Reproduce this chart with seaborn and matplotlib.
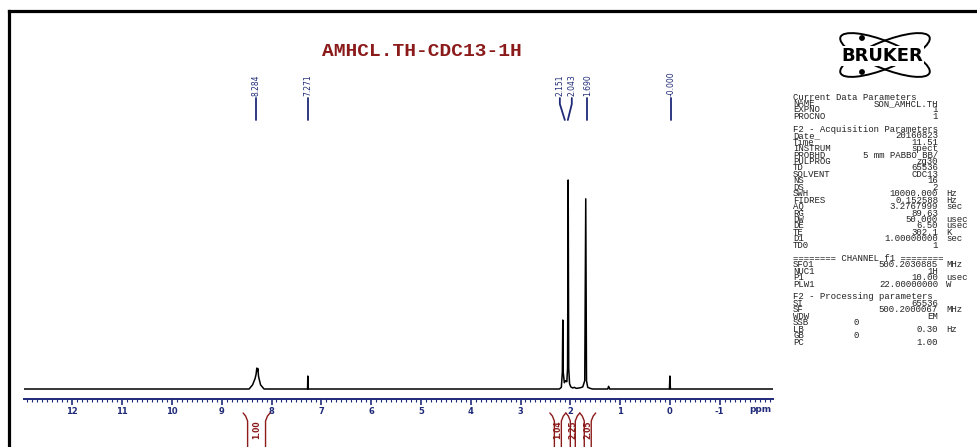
import matplotlib
matplotlib.use("Agg")
import matplotlib.pyplot as plt
import matplotlib.transforms as mtransforms
from matplotlib.patches import Ellipse, Circle
from matplotlib.ticker import MultipleLocator, FixedLocator
import seaborn as sns

# ---------------- data ----------------
title_text = "AMHCL.TH-CDC13-1H"

# spectrum vertices (ppm, relative intensity)
ppm = [12.97, 8.45, 8.38, 8.33, 8.31, 8.295, 8.284, 8.275, 8.26, 8.22, 8.15,
       7.276, 7.271, 7.266,
       2.22, 2.18, 2.16, 2.151, 2.142, 2.12, 2.095, 2.07, 2.055, 2.043, 2.032,
       2.015, 1.99, 1.95, 1.92, 1.88, 1.80, 1.75, 1.71, 1.690, 1.675, 1.65,
       1.60, 1.55, 1.25, 1.23, 1.21, 0.01, 0.0, -0.01, -2.07]
intensity = [0, 0, 2, 5, 7, 10, 8.5, 9.8, 6, 2, 0,
             0, 6.2, 0,
             0, 0.8, 8, 33, 8, 3, 4, 3.5, 10, 100, 10,
             2.5, 1, 0.5, 0.8, 0.3, 0.6, 1, 4, 91, 4, 0.8,
             0.3, 0, 0, 1.3, 0, 0, 6.2, 0, 0]

peak_labels = ["8.284", "7.271", "2.151", "2.043", "1.690", "-0.000"]
peak_label_x = [8.31, 7.27, 2.21, 1.97, 1.66, -0.03]
peak_line_x = [8.31, 7.27, 2.11, 2.05, 1.66, -0.03]

integral_values = ["1.00", "1.04", "2.25", "2.05"]
integral_start = [8.57, 2.41, 2.09, 1.81]
integral_end = [8.03, 2.09, 1.81, 1.49]

major_ticks = [12, 11, 10, 9, 8, 7, 6, 5, 4, 3, 2, 1, 0, -1]

param_keys = ["Current Data Parameters", "NAME", "EXPNO", "PROCNO", "",
              "F2 - Acquisition Parameters", "Date_", "Time", "INSTRUM",
              "PROBHD", "PULPROG", "TD", "SOLVENT", "NS", "DS", "SWH",
              "FIDRES", "AQ", "RG", "DW", "DE", "TE", "D1", "TD0", "",
              "======== CHANNEL f1 ========", "SFO1", "NUC1", "P1", "PLW1", "",
              "F2 - Processing parameters", "SI", "SF", "WDW", "SSB", "LB",
              "GB", "PC"]
param_values = ["", "SON_AMHCL.TH", "1", "1", "",
                "", "20160823", "11.51", "spect",
                "5 mm PABBO BB/", "zg30", "65536", "CDC13", "16", "2",
                "10000.000", "0.152588", "3.2767999", "89.63", "50.000",
                "6.50", "302.1", "1.00000000", "1", "",
                "", "500.2030885", "1H", "10.00", "22.00000000", "",
                "", "65536", "500.2000067", "EM", "0", "0.30", "0", "1.00"]
param_units = ["", "", "", "", "",
               "", "", "", "",
               "", "", "", "", "", "",
               "Hz", "Hz", "sec", "", "usec",
               "usec", "K", "sec", "", "",
               "", "MHz", "", "usec", "W", "",
               "", "", "MHz", "", "", "Hz", "", ""]
mid_column_keys = ["SSB", "GB"]

# ---------------- styling ----------------
sns.set_style("white")
plt.rcParams["font.family"] = ["DejaVu Sans"]

NAVY = "#1f2a78"
DARKRED = "#8b1a1a"
W, H = 977, 447
fig = plt.figure(figsize=(W / 100, H / 100), dpi=100)

# spectrum axes
ax_left, ax_right, ax_top, ax_bot = 24, 773, 40, 399
ax = fig.add_axes([ax_left / W, (H - ax_bot) / H, (ax_right - ax_left) / W,
                   (ax_bot - ax_top) / H])
ax.set_facecolor("none")
sns.lineplot(x=ppm, y=intensity, sort=False, estimator=None, color="black",
             linewidth=1.1, ax=ax)
ax.set_xlim(12.97, -2.07)
ax.set_ylim(-4.78, 167)
for s in ["top", "left", "right"]:
    ax.spines[s].set_visible(False)
ax.spines["bottom"].set_color(NAVY)
ax.spines["bottom"].set_linewidth(1.4)
ax.set_yticks([])
ax.xaxis.set_major_locator(FixedLocator(major_ticks))
ax.xaxis.set_minor_locator(MultipleLocator(0.1))
ax.set_xticklabels([str(t) for t in major_ticks])
ax.tick_params(axis="x", which="major", direction="out", length=4, width=1.2,
               color=NAVY, labelcolor=NAVY, labelsize=6, pad=2, bottom=True)
ax.tick_params(axis="x", which="minor", direction="out", length=2, width=0.8,
               color=NAVY, bottom=True)
for lab in ax.get_xticklabels():
    lab.set_fontweight("bold")
ax.set_xlabel("")
ax.set_ylabel("")

# overlay in pixel coordinates (origin top-left)
ov = fig.add_axes([0, 0, 1, 1], zorder=5)
ov.set_xlim(0, W)
ov.set_ylim(H, 0)
ov.axis("off")
ov.patch.set_alpha(0)

# frame
ov.plot([8.5, 8.5], [H, 10.5], color="black", lw=2.3, solid_capstyle="projecting")
ov.plot([8.5, W], [10.5, 10.5], color="black", lw=2.3, solid_capstyle="projecting")

# title
ov.text(422, 52, title_text, ha="center", va="center", family="Liberation Mono",
        fontweight="bold", fontsize=14, color=DARKRED)

# peak labels
blend = mtransforms.blended_transform_factory(ax.transData, ov.transData)
for lab, tx, lx in zip(peak_labels, peak_label_x, peak_line_x):
    ov.text(tx, 96, lab, rotation=90, ha="center", va="bottom", fontsize=5.5,
            color=NAVY, transform=blend)
    ov.plot([tx, tx, lx], [98, 104, 120], color=NAVY, lw=1.3, transform=blend)

# ppm unit
ov.text(760, 410, "ppm", ha="center", va="center", fontsize=6.5,
        fontweight="bold", color=NAVY)

# integrals
for val, a, b in zip(integral_values, integral_start, integral_end):
    ov.plot([a, a - 0.05, a - 0.09, a - 0.09], [413, 416, 421, H],
            color=DARKRED, lw=1.0, transform=blend)
    ov.plot([b, b + 0.05, b + 0.09, b + 0.09], [413, 416, 421, H],
            color=DARKRED, lw=1.0, transform=blend)
    ov.text((a + b) / 2, 430, val, rotation=90, ha="center", va="center",
            fontsize=5.5, fontweight="bold", color=DARKRED, transform=blend)

# Bruker logo
for ang in (22, -22):
    ov.add_patch(Ellipse((885, 55), 96, 27, angle=ang, fill=False,
                         edgecolor="black", lw=1.4))
for cx, cy in [(862, 38), (862, 72)]:
    ov.add_patch(Circle((cx, cy), 2.2, color="black"))
ov.text(882, 56, "BRUKER", ha="center", va="center", fontsize=13,
        fontweight="bold", color="black",
        bbox=dict(boxstyle="square,pad=0.05", fc="white", ec="none"))

# parameter block
PFS = 6.5
pkw = dict(va="center", family="Liberation Mono", fontsize=PFS, color="#222222")
y0, dy = 97, 6.45
for i, (k, v, u) in enumerate(zip(param_keys, param_values, param_units)):
    y = y0 + i * dy
    if k:
        ov.text(793, y, k, ha="left", **pkw)
    if v:
        if k in mid_column_keys:
            ov.text(853, y, v, ha="left", **pkw)
        else:
            ov.text(938, y, v, ha="right", **pkw)
    if u:
        ov.text(946, y, u, ha="left", **pkw)

fig.savefig("out.png", dpi=100)
